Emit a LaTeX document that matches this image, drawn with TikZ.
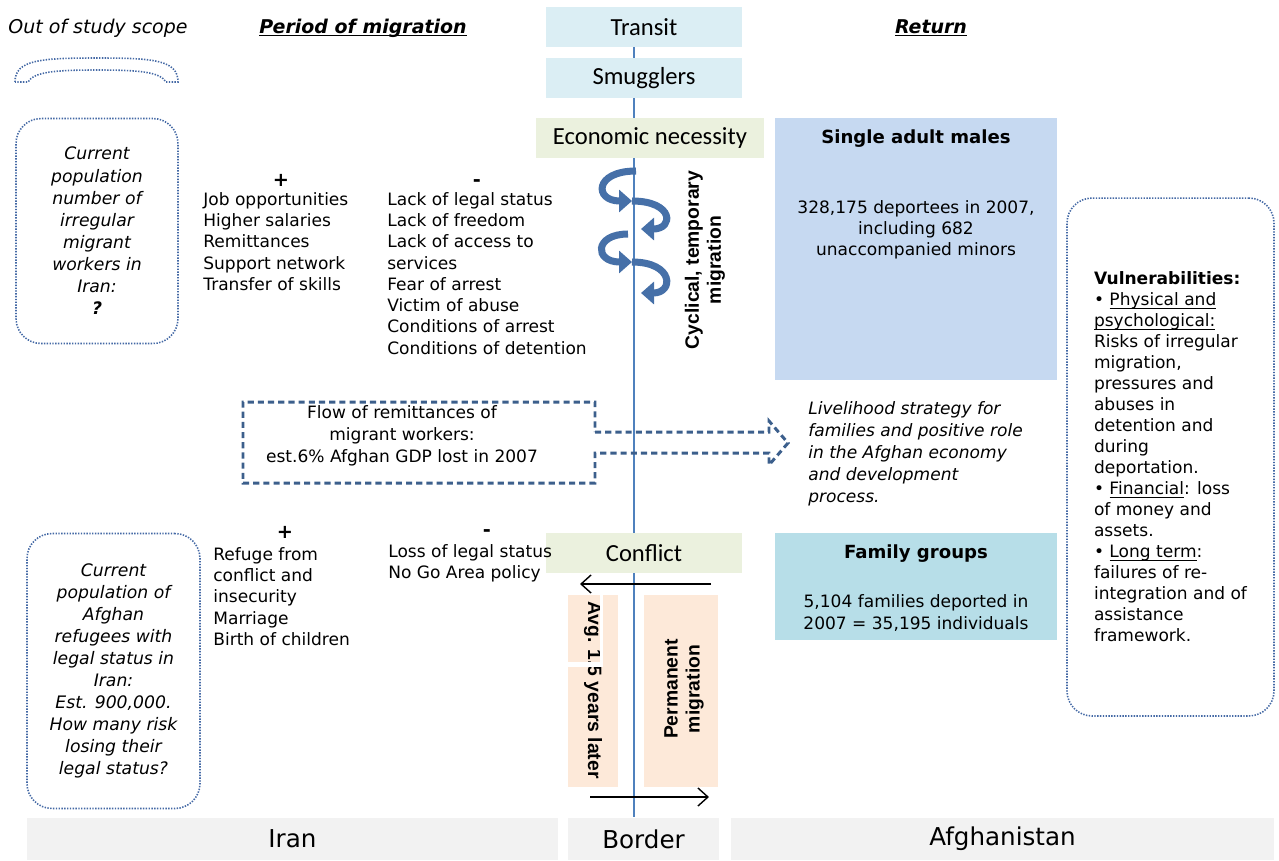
\documentclass[tikz,border=0pt]{standalone}
\usepackage{fontspec}
\setmainfont{DejaVu Sans}
\newfontfamily\calfont{Carlito}
\newfontfamily\arlfont{Liberation Sans}
\usetikzlibrary{arrows.meta, positioning, calc}
\newcommand\ultext[1]{\underline{\smash{#1}}}
\tikzset{
	lightbox/.style={inner sep=0pt, minimum width=3.92cm, minimum height=0.8cm, font=\calfont\fontsize{14}{16}\selectfont},
	dotbox/.style={draw={rgb,255:red,68;green,105;blue,165}, line width=0.9pt, dash pattern=on 0.8pt off 0.8pt, rounded corners=0.5cm, inner sep=0pt},
	bodytxt/.style={inner sep=0pt, font=\fontsize{9.7}{12.1}\selectfont},
	signtxt/.style={inner sep=0pt, font=\fontsize{11}{13}\selectfont\bfseries},
	headtxt/.style={inner sep=0pt, font=\fontsize{10.8}{13}\selectfont\bfseries\itshape},
	sidetxt/.style={inner sep=0pt, font=\arlfont\bfseries\fontsize{11}{12.5}\selectfont},
	peachbox/.style={fill={rgb,255:red,253;green,233;blue,217}, minimum height=3.84cm, inner sep=0pt},
	regionbar/.style={fill={rgb,255:red,242;green,242;blue,242}, minimum height=0.84cm, inner sep=0pt, font=\fontsize{14}{16}\selectfont},
	thinarrow/.style={line width=0.8pt, -{Straight Barb[length=2mm,width=3.6mm]}},
	spiralarrow/.style={color={rgb,255:red,70;green,112;blue,168}, line width=4pt, -{Triangle[length=2.6mm,width=4.4mm]}},
	remit/.style={color={rgb,255:red,60;green,95;blue,140}, line width=1.7pt, dash pattern=on 3.5pt off 2.3pt},
	axisline/.style={color={rgb,255:red,79;green,129;blue,189}, line width=0.9pt}
}

\begin{document}
\begin{tikzpicture}[x=0.02cm, y=-0.02cm, every node/.style={align=center}]
	\useasboundingbox (0,0) rectangle (1279,860);
	
	% border line
	\coordinate (ltop) at (634,47);
	\coordinate (lbot) at (634,817);
	\draw [axisline] (ltop) -- (lbot);
	
	% headings
	\node [inner sep=0pt, font=\fontsize{10.8}{13}\selectfont\itshape] (scope) at (98,28) {Out of study scope};
	\node [headtxt] (period) at (363,35) {\ultext{Period of migration}};
	\node [headtxt] (return) at (931,35) {\ultext{Return}};
	\draw [dotbox, rounded corners=0pt] (15,82) .. controls (15,60) and (40,58) .. (97,58) .. controls (154,58) and (178,60) .. (178,82) -- (166,82) .. controls (160,72) and (140,70) .. (97,70) .. controls (54,70) and (34,72) .. (28,82) -- cycle;
	
	% centre column
	\node [lightbox, fill={rgb,255:red,219;green,238;blue,244}] (transit) at (644,27) {Transit};
	\node [lightbox, fill={rgb,255:red,219;green,238;blue,244}] (smugglers) at (644,78) {Smugglers};
	\node [lightbox, fill={rgb,255:red,235;green,241;blue,222}, minimum width=4.56cm] (econ) at (650,138) {Economic necessity};
	\node [lightbox, fill={rgb,255:red,235;green,241;blue,222}] (conflict) at (644,553) {Conflict};
	
	\draw [spiralarrow] (636,171) .. controls (594,171) and (594,201) .. (632,201);
	\draw [spiralarrow] (632,201) .. controls (674,201) and (674,229) .. (641,229);
	\draw [spiralarrow] (628,234) .. controls (594,234) and (594,262) .. (632,262);
	\draw [spiralarrow] (632,262) .. controls (674,262) and (674,293) .. (641,293);
	\node [sidetxt, rotate=90] (cyclical) at (705,260) {Cyclical, temporary\\migration};
	
	\node [peachbox, minimum width=1cm] (avgbox) at (593,691) {};
	\node [peachbox, minimum width=1.48cm] (permbox) at (681,691) {};
	\node [sidetxt, rotate=-90] (avg) at (593,690) {Avg. 1.5 years later};
	\fill [white] (600,593) rectangle (603,667);
	\fill [white] (568,662) rectangle (603,667);
	\node [sidetxt, rotate=90] (perm) at (684,689) {Permanent\\migration};
	
	\coordinate (backstart) at (711,584);
	\coordinate (backend) at (580,584);
	\draw [thinarrow] (backstart) -- (backend);
	\coordinate (gostart) at (590,797);
	\coordinate (goend) at (709,797);
	\draw [thinarrow] (gostart) -- (goend);
	
	% Iran side
	\node [dotbox, minimum width=3.24cm, minimum height=4.5cm, font=\fontsize{9.8}{12.6}\selectfont\itshape] (workers) at (97,231) {Current\\population\\number of\\irregular\\migrant\\workers in\\Iran:\\\textbf{?}};
	\node [dotbox, minimum width=3.46cm, minimum height=5.5cm, font=\fontsize{9.8}{12.5}\selectfont\itshape] (refugees) at (113.5,671) {Current\\population of\\Afghan\\refugees with\\legal status in\\Iran:\\Est. 900,000.\\How many risk\\losing their\\legal status?};
	
	\node [signtxt] (plusA) at (281,180) {+};
	\node [signtxt] (minusA) at (477,183) {-};
	\node [bodytxt, anchor=north west, align=left] (prosA) at (203,192) {Job opportunities\\Higher salaries\\Remittances\\Support network\\Transfer of skills};
	\node [bodytxt, anchor=north west, align=left] (consA) at (387,192) {Lack of legal status\\Lack of freedom\\Lack of access to\\services\\Fear of arrest\\Victim of abuse\\Conditions of arrest\\Conditions of detention};
	
	\node [signtxt] (plusB) at (285,532) {+};
	\node [signtxt] (minusB) at (487,533) {-};
	\node [bodytxt, anchor=north west, align=left] (prosB) at (213,547) {Refuge from\\conflict and\\insecurity\\Marriage\\Birth of children};
	\node [bodytxt, anchor=north west, align=left] (consB) at (388,544) {Loss of legal status\\No Go Area policy};
	
	% remittances
	\draw [remit] (595,432) -- (769,432) -- (769,421) -- (788,443) -- (769,465) -- (769,453) -- (595,453) -- (595,483) -- (243,483) -- (243,402) -- (595,402) -- cycle;
	\node [bodytxt, font=\fontsize{9.7}{12.5}\selectfont] (remittxt) at (402,436) {Flow of remittances of\\migrant workers:\\est.6\% Afghan GDP lost in 2007};
	\node [bodytxt, anchor=north west, align=left, font=\fontsize{9.7}{12.6}\selectfont\itshape] (livelihood) at (808,401) {Livelihood strategy for\\families and positive role\\in the Afghan economy\\and development\\process.};
	
	% Afghanistan side
	\node [fill={rgb,255:red,198;green,217;blue,241}, minimum width=5.64cm, minimum height=5.24cm, inner sep=0pt] (males) at (916,249) {};
	\node [inner sep=0pt, font=\fontsize{10.3}{12}\selectfont\bfseries] (malestitle) at (916,139) {Single adult males};
	\node [bodytxt] (malestxt) at (916,230) {328,175 deportees in 2007,\\including 682\\unaccompanied minors};
	\node [fill={rgb,255:red,183;green,222;blue,232}, minimum width=5.64cm, minimum height=2.14cm, inner sep=0pt] (family) at (916,586.5) {};
	\node [inner sep=0pt, font=\fontsize{10.3}{12}\selectfont\bfseries] (familytitle) at (916,554) {Family groups};
	\node [bodytxt] (familytxt) at (916,613) {5,104 families deported in\\2007 = 35,195 individuals};
	
	\node [dotbox, minimum width=4.14cm, minimum height=10.36cm, align=left, font=\fontsize{9.7}{11.95}\selectfont] (vulner) at (1170.5,457) {\textbf{Vulnerabilities:}\\
		\textbullet\ \ultext{Physical and}\\
		\ultext{psychological:}\\
		Risks of irregular\\
		migration,\\
		pressures and\\
		abuses in\\
		detention and\\
		during\\
		deportation.\\
		\textbullet\ \ultext{Financial}: loss\\
		of money and\\
		assets.\\
		\textbullet\ \ultext{Long term}:\\
		failures of re-\\
		integration and of\\
		assistance\\
		framework.};
	
	% region bars
	\node [regionbar, minimum width=10.62cm] (iran) at (292.5,839) {Iran};
	\node [regionbar, minimum width=3.02cm] (border) at (643.5,839) {Border};
	\node [regionbar, minimum width=10.86cm] (afghanistan) at (1002.5,839) {Afghanistan};
\end{tikzpicture}
\end{document}
